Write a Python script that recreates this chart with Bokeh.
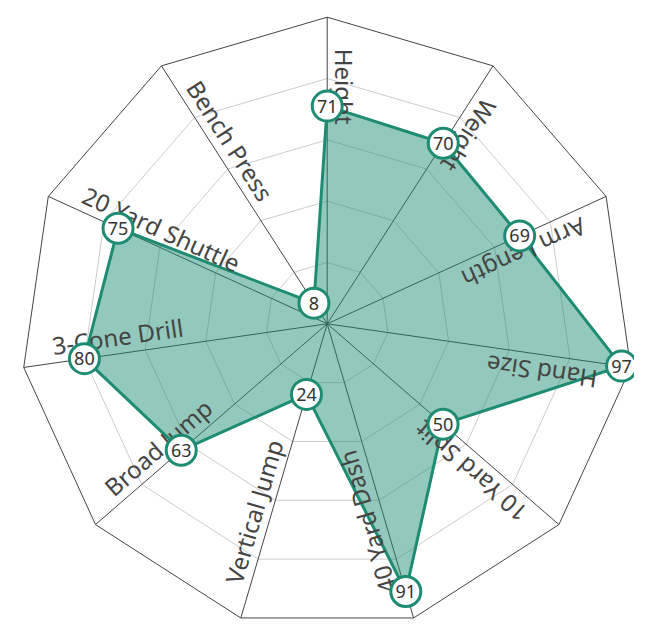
import numpy as np
from bokeh.plotting import figure
from bokeh.models import ColumnDataSource, Range1d
from bokeh.core.properties import value
from bokeh.embed import file_html
from bokeh.resources import INLINE

# ---- data ----
categories = ["Height", "Weight", "Arm Length", "Hand Size", "10 Yard Split",
              "40 Yard Dash", "Vertical Jump", "Broad Jump", "3-Cone Drill",
              "20 Yard Shuttle", "Bench Press"]
scores = [71, 70, 69, 97, 50, 91, 24, 63, 80, 75, 8]
grid_levels = [20, 40, 60, 80]
max_value = 100

# ---- style ----
TEAL = "#1e8c72"
FONT = "Noto Sans"
W, H = 634, 621
PX_PER_UNIT = 3.066
CX, CY = 326.7, 323.3   # centre in figure pixels

n = len(categories)
angles = np.pi / 2 - 2 * np.pi * np.arange(n) / n
cosA, sinA = np.cos(angles), np.sin(angles)

p = figure(width=W, height=H,
           x_range=Range1d(-CX / PX_PER_UNIT, (W - CX) / PX_PER_UNIT),
           y_range=Range1d(-(H - CY) / PX_PER_UNIT, CY / PX_PER_UNIT),
           output_backend="svg", toolbar_location=None, min_border=0)
p.axis.visible = False
p.grid.visible = False
p.outline_line_color = None

# grid rings
ring_xs = [list(lv * cosA) + [lv * cosA[0]] for lv in grid_levels]
ring_ys = [list(lv * sinA) + [lv * sinA[0]] for lv in grid_levels]
p.multi_line(ring_xs, ring_ys, line_color="#cccccc", line_width=1)

# spokes
p.segment(x0=[0] * n, y0=[0] * n, x1=list(max_value * cosA), y1=list(max_value * sinA),
          line_color="#444444", line_width=1)

# outer ring
p.line(list(max_value * cosA) + [max_value * cosA[0]],
       list(max_value * sinA) + [max_value * sinA[0]],
       line_color="#444444", line_width=1)

# data area
vals = np.array(scores, dtype=float)
px = vals * cosA
py = vals * sinA
p.patch(list(px), list(py), fill_color=TEAL, fill_alpha=0.48,
        line_color=TEAL, line_width=3, line_join="round")

# axis labels along spokes, reading inward
r_lab = 89.7
theta = angles + np.pi
d = 1.0 / PX_PER_UNIT
lx = r_lab * cosA + d * (-np.sin(theta))
ly = r_lab * sinA + d * np.cos(theta)
lab_src = ColumnDataSource(dict(x=lx, y=ly, text=categories, angle=theta))
p.text(x="x", y="y", text="text", angle="angle", source=lab_src,
       text_align="left", text_baseline="bottom",
       text_font=value(FONT), text_font_size="24px", text_color="#444444")

# markers with values
pt_src = ColumnDataSource(dict(x=px, y=py, text=[str(s) for s in scores]))
p.scatter(x="x", y="y", source=pt_src, size=30, fill_color="white",
          line_color=TEAL, line_width=3)
p.text(x="x", y="y", text="text", source=pt_src, text_align="center",
       text_baseline="middle", text_font=value(FONT), text_font_size="18px",
       text_color="#333333")

open("out.html", "w").write(file_html(p, INLINE))
